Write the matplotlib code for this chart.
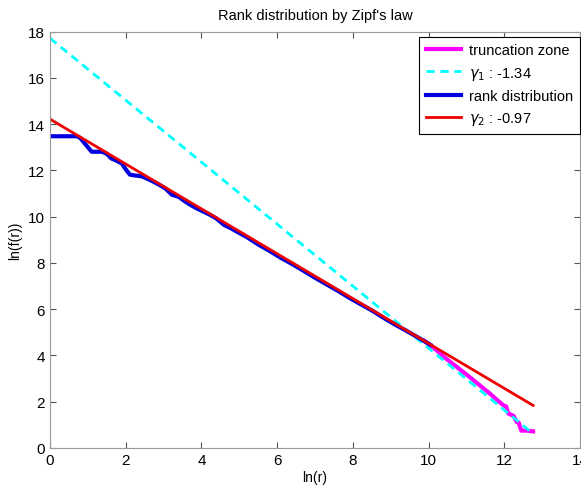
import numpy as np
import matplotlib
matplotlib.use('Agg')
import matplotlib.pyplot as plt

plt.rcParams['font.family'] = ['Liberation Sans', 'DejaVu Sans']

# rank distribution (ln r, ln f(r))
rank_x = [0.0, 0.71, 0.80, 1.10, 1.37, 1.50, 1.62, 1.76, 1.90, 2.00, 2.11,
          2.25, 2.42, 2.60, 2.75, 2.91, 3.05, 3.22, 3.40, 3.55, 3.70,
          3.90, 4.05, 4.23, 4.40, 4.60, 4.78, 4.93, 5.20, 5.50, 5.80,
          6.10, 6.40, 6.70, 7.00, 7.30, 7.60, 7.90, 8.20, 8.50, 8.80,
          9.10, 9.40, 9.70, 10.05]
rank_y = [13.48, 13.48, 13.40, 12.81, 12.81, 12.72, 12.52, 12.42, 12.30, 12.05, 11.82,
          11.78, 11.75, 11.62, 11.50, 11.36, 11.22, 10.95, 10.86, 10.68, 10.52,
          10.34, 10.22, 10.08, 9.92, 9.64, 9.50, 9.36, 9.12, 8.80, 8.52,
          8.22, 7.95, 7.66, 7.36, 7.08, 6.80, 6.50, 6.22, 5.95, 5.64,
          5.35, 5.08, 4.80, 4.46]

# truncation zone
trunc_x = [9.90, 10.10, 10.40, 10.70, 11.00, 11.30, 11.60, 11.85, 11.98, 12.05,
           12.10, 12.20, 12.25, 12.33, 12.38, 12.45, 12.60, 12.76]
trunc_y = [4.62, 4.38, 3.95, 3.56, 3.18, 2.78, 2.38, 2.02, 1.84, 1.80,
           1.50, 1.42, 1.38, 1.12, 1.10, 0.75, 0.75, 0.72]

# fitted lines: slope, intercept
gamma1, b1 = -1.34, 17.72
gamma2, b2 = -0.97, 14.22
fit_x = [0.0, 12.76]

fig = plt.figure(figsize=(5.81, 4.89), dpi=100)
ax = fig.add_axes([50 / 581, 40 / 489, 530 / 581, 416.3 / 489])

ax.plot(trunc_x, trunc_y, color='magenta', lw=3, label='truncation zone')
ax.plot(fit_x, [b1 + gamma1 * x for x in fit_x], color='cyan', lw=2,
        linestyle=(0, (3, 2)), label='$\\gamma_1$ : %.2f' % gamma1)
ax.plot(rank_x, rank_y, color='#0000e0', lw=3, label='rank distribution')
ax.plot(fit_x, [b2 + gamma2 * x for x in fit_x], color='#ee0000', lw=2,
        label='$\\gamma_2$ : %.2f' % gamma2)

ax.set_xlim(0, 14)
ax.set_ylim(0, 18)
ax.set_xticks(range(0, 15, 2))
ax.set_yticks(range(0, 19, 2))
ax.tick_params(direction='in', top=True, right=True, labelsize=11, length=4,
               color='#555555')
for s in ax.spines.values():
    s.set_color('#999999')

ax.set_xlabel('ln(r)', fontsize=10, labelpad=2)
ax.set_ylabel('ln(f(r))', fontsize=10, labelpad=4)
ax.set_title("Rank distribution by Zipf's law", fontsize=10.5, pad=9)

leg = ax.legend(loc='upper right', bbox_to_anchor=(1.0, 1 - 5 / 416),
                fontsize=10.5, fancybox=False, framealpha=1,
                edgecolor='black', borderaxespad=0, handlelength=2.4,
                labelspacing=0.5, borderpad=0.45, handletextpad=0.6)
leg.get_frame().set_linewidth(0.8)

fig.savefig('out.png', dpi=100)
